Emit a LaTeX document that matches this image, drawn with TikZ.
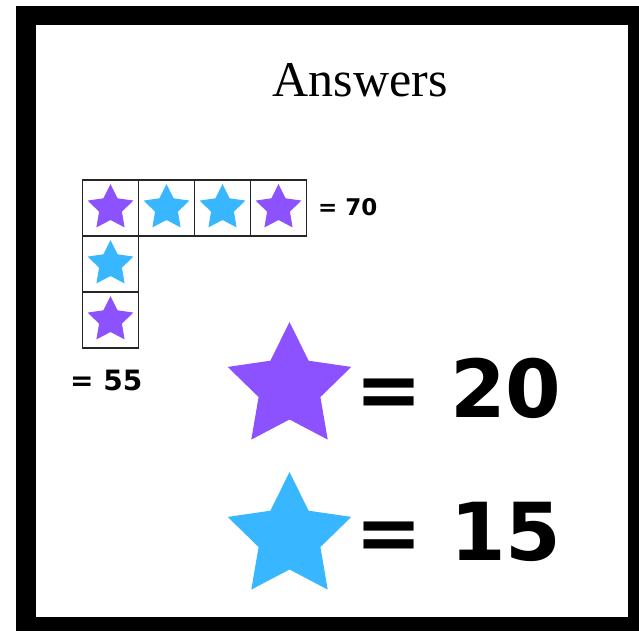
\documentclass[tikz,border=0pt]{standalone}
\usepackage{fontspec}
\setmainfont{Liberation Serif}
\newfontfamily\heavyfont{DejaVu Sans}
\usetikzlibrary{positioning, shapes.geometric}
\definecolor{starpurple}{HTML}{8C52FF}
\definecolor{starblue}{HTML}{38B6FF}

\begin{document}
\begin{tikzpicture}[x=1pt, y=-1pt, node distance=0pt]
\tikzstyle{cell} = [rectangle, draw=black!85, line width=1.5pt,
    minimum size=56pt, inner sep=0pt, outer sep=0pt]
\tikzstyle{star5} = [star, star points=5, star point ratio=2.0,
    inner sep=0pt, outer sep=0pt]
\tikzstyle{pstar} = [star5, fill=starpurple]
\tikzstyle{bstar} = [star5, fill=starblue]
\tikzstyle{sumtext} = [anchor=base west, inner sep=0pt,
    font=\heavyfont\bfseries\fontsize{25}{27}\selectfont]
\tikzstyle{valtext} = [anchor=base west, inner sep=0pt,
    font=\heavyfont\bfseries\fontsize{80}{82}\selectfont]

\useasboundingbox (0,0) rectangle (639,631);
% frame
\fill[black] (16,6) rectangle (639,631);
\fill[white] (36,25) rectangle (628,617);

\node (title) [anchor=base, inner sep=0pt,
    font=\fontsize{50}{52}\selectfont] at (360,97) {Answers};

% grid of cells
\node (c1) [cell] at (110.5,208) {};
\node (c2) [cell, right=of c1] {};
\node (c3) [cell, right=of c2] {};
\node (c4) [cell, right=of c3] {};
\node (c5) [cell, below=of c1] {};
\node (c6) [cell, below=of c5] {};

\node (s1) [pstar, minimum size=48pt] at (c1) {};
\node (s2) [bstar, minimum size=48pt] at (c2) {};
\node (s3) [bstar, minimum size=48pt] at (c3) {};
\node (s4) [pstar, minimum size=48pt] at (c4) {};
\node (s5) [bstar, minimum size=48pt] at (c5) {};
\node (s6) [pstar, minimum size=48pt] at (c6) {};

\node (sum70) [sumtext, font=\heavyfont\bfseries\fontsize{23}{25}\selectfont]
    at (318,215) {= 70};
\node (sum55) [sumtext, font=\heavyfont\bfseries\fontsize{28}{30}\selectfont]
    at (70,390) {= 55};

% answers
\node (bigp) [pstar, minimum size=130pt] at (289.5,387) {};
\node (bigb) [bstar, minimum size=130pt] at (289.5,537) {};
\node (val20) [valtext] at (355,417) {= 20};
\node (val15) [valtext] at (355,560) {= 15};
\end{tikzpicture}
\end{document}
